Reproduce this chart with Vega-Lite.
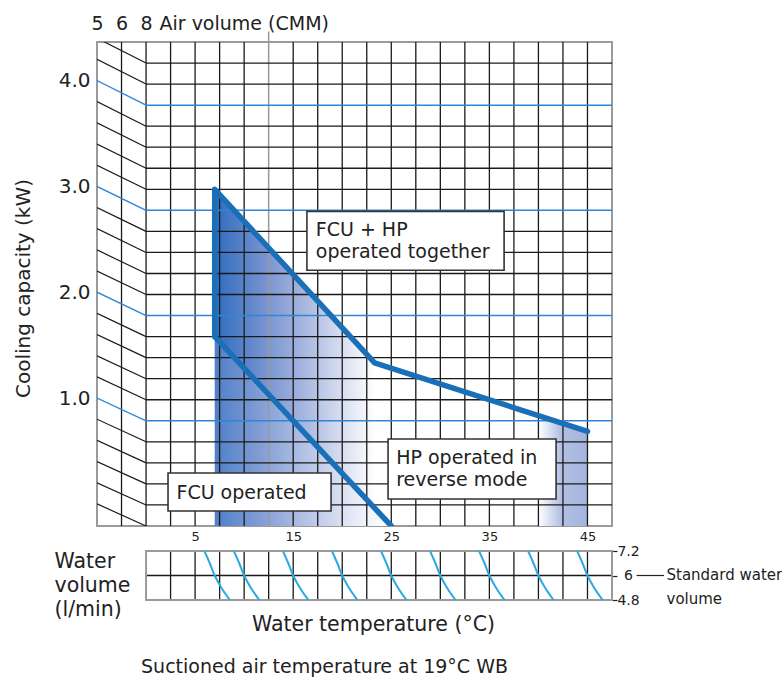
{
  "$schema": "https://vega.github.io/schema/vega-lite/v6.json",
  "padding": {"left": 12, "top": 13, "right": 0, "bottom": 0},
  "background": "white",
  "bounds": "flush",
  "spacing": 25,
  "config": {
    "view": {"stroke": "#9a9a9a", "strokeWidth": 2},
    "axis": {"grid": false, "labelFont": "DejaVu Sans", "titleFont": "DejaVu Sans", "labelColor": "#222", "titleColor": "#222", "titleFontWeight": "normal", "labelFlush": false, "labelOverlap": false}
  },
  "datasets": {
    "vgrid": [{"t": -2.5}, {"t": 0}, {"t": 2.5}, {"t": 5}, {"t": 7.5}, {"t": 10}, {"t": 15}, {"t": 17.5}, {"t": 20}, {"t": 22.5}, {"t": 25}, {"t": 27.5}, {"t": 30}, {"t": 32.5}, {"t": 35}, {"t": 37.5}, {"t": 40}, {"t": 42.5}, {"t": 45}],
    "airline": [{"t": 12.5}],
    "hminor": [{"kw": 0.2}, {"kw": 0.4}, {"kw": 0.6}, {"kw": 0.8}, {"kw": 1.2}, {"kw": 1.4}, {"kw": 1.6}, {"kw": 1.8}, {"kw": 2.2}, {"kw": 2.4}, {"kw": 2.6}, {"kw": 2.8}, {"kw": 3.2}, {"kw": 3.4}, {"kw": 3.6}, {"kw": 3.8}, {"kw": 4.2}, {"kw": 4.4}],
    "hmajor": [{"kw": 1}, {"kw": 2}, {"kw": 3}, {"kw": 4}],
    "slantMinor": [{"right": 0, "left": 0.21}, {"right": 0.2, "left": 0.411}, {"right": 0.4, "left": 0.612}, {"right": 0.6, "left": 0.814}, {"right": 0.8, "left": 1.015}, {"right": 1.2, "left": 1.417}, {"right": 1.4, "left": 1.618}, {"right": 1.6, "left": 1.82}, {"right": 1.8, "left": 2.021}, {"right": 2.2, "left": 2.423}, {"right": 2.4, "left": 2.624}, {"right": 2.6, "left": 2.826}, {"right": 2.8, "left": 3.027}, {"right": 3.2, "left": 3.429}, {"right": 3.4, "left": 3.63}, {"right": 3.6, "left": 3.832}, {"right": 3.8, "left": 4.033}, {"right": 4.2, "left": 4.435}, {"right": 4.4, "left": 4.636}],
    "slantMajor": [{"right": 1, "left": 1.216}, {"right": 2, "left": 2.222}, {"right": 3, "left": 3.228}, {"right": 4, "left": 4.234}],
    "shadeUpper": [{"t": 7, "kw": 3.2, "low": 1.8}, {"t": 23.3, "kw": 1.55, "low": 0.17}],
    "shadeLower": [{"t": 7, "kw": 1.8}, {"t": 25, "kw": 0}],
    "shadeB": [{"t": 40, "kw": 1.05}, {"t": 45, "kw": 0.9}],
    "bounds": [
      {"path": "upper", "seq": 1, "t": 7, "kw": 1.8},
      {"path": "upper", "seq": 2, "t": 7, "kw": 3.2},
      {"path": "upper", "seq": 3, "t": 23.3, "kw": 1.55},
      {"path": "upper", "seq": 4, "t": 45, "kw": 0.9},
      {"path": "lower", "seq": 1, "t": 7, "kw": 1.8},
      {"path": "lower", "seq": 2, "t": 25, "kw": 0}
    ],
    "boxes": [
      {"t1": 16.4, "t2": 36.5, "kw1": 2.99, "kw2": 2.43},
      {"t1": 2.24, "t2": 18.86, "kw1": 0.504, "kw2": 0.143},
      {"t1": 24.67, "t2": 41.8, "kw1": 0.827, "kw2": 0.257}
    ],
    "notes": [
      {"t": 17.3, "kw": 2.757, "label": "FCU + HP"},
      {"t": 17.3, "kw": 2.548, "label": "operated together"},
      {"t": 3.1, "kw": 0.257, "label": "FCU operated"},
      {"t": 25.5, "kw": 0.589, "label": "HP operated in"},
      {"t": 25.5, "kw": 0.38, "label": "reverse mode"}
    ],
    "sgrid": [{"t": 2.5}, {"t": 5}, {"t": 7.5}, {"t": 10}, {"t": 12.5}, {"t": 15}, {"t": 17.5}, {"t": 20}, {"t": 22.5}, {"t": 25}, {"t": 27.5}, {"t": 30}, {"t": 32.5}, {"t": 35}, {"t": 37.5}, {"t": 40}, {"t": 42.5}, {"t": 45}],
    "curves": [
      {"curve": 7, "vol": 7.2, "temp": 5.95}, {"curve": 7, "vol": 6.6, "temp": 6.5}, {"curve": 7, "vol": 6.0, "temp": 7}, {"curve": 7, "vol": 5.4, "temp": 7.68}, {"curve": 7, "vol": 4.8, "temp": 8.55},
      {"curve": 10, "vol": 7.2, "temp": 8.95}, {"curve": 10, "vol": 6.6, "temp": 9.5}, {"curve": 10, "vol": 6.0, "temp": 10}, {"curve": 10, "vol": 5.4, "temp": 10.68}, {"curve": 10, "vol": 4.8, "temp": 11.55},
      {"curve": 15, "vol": 7.2, "temp": 13.95}, {"curve": 15, "vol": 6.6, "temp": 14.5}, {"curve": 15, "vol": 6.0, "temp": 15}, {"curve": 15, "vol": 5.4, "temp": 15.68}, {"curve": 15, "vol": 4.8, "temp": 16.55},
      {"curve": 20, "vol": 7.2, "temp": 18.95}, {"curve": 20, "vol": 6.6, "temp": 19.5}, {"curve": 20, "vol": 6.0, "temp": 20}, {"curve": 20, "vol": 5.4, "temp": 20.68}, {"curve": 20, "vol": 4.8, "temp": 21.55},
      {"curve": 25, "vol": 7.2, "temp": 23.95}, {"curve": 25, "vol": 6.6, "temp": 24.5}, {"curve": 25, "vol": 6.0, "temp": 25}, {"curve": 25, "vol": 5.4, "temp": 25.68}, {"curve": 25, "vol": 4.8, "temp": 26.55},
      {"curve": 30, "vol": 7.2, "temp": 28.95}, {"curve": 30, "vol": 6.6, "temp": 29.5}, {"curve": 30, "vol": 6.0, "temp": 30}, {"curve": 30, "vol": 5.4, "temp": 30.68}, {"curve": 30, "vol": 4.8, "temp": 31.55},
      {"curve": 35, "vol": 7.2, "temp": 33.95}, {"curve": 35, "vol": 6.6, "temp": 34.5}, {"curve": 35, "vol": 6.0, "temp": 35}, {"curve": 35, "vol": 5.4, "temp": 35.68}, {"curve": 35, "vol": 4.8, "temp": 36.55},
      {"curve": 40, "vol": 7.2, "temp": 38.95}, {"curve": 40, "vol": 6.6, "temp": 39.5}, {"curve": 40, "vol": 6.0, "temp": 40}, {"curve": 40, "vol": 5.4, "temp": 40.68}, {"curve": 40, "vol": 4.8, "temp": 41.55},
      {"curve": 45, "vol": 7.2, "temp": 43.95}, {"curve": 45, "vol": 6.6, "temp": 44.5}, {"curve": 45, "vol": 6.0, "temp": 45}, {"curve": 45, "vol": 5.4, "temp": 45.68}, {"curve": 45, "vol": 4.8, "temp": 46.55}
    ],
    "standard": [{"vol": 6}]
  },
  "vconcat": [
    {
      "width": 515,
      "height": 484,
      "resolve": {"axis": {"x": "independent", "y": "independent"}},
      "layer": [
        {
          "data": {"name": "shadeUpper"},
          "mark": {"type": "area", "clip": true, "fill": {"gradient": "linear", "x1": 0, "y1": 0, "x2": 1, "y2": 0, "stops": [{"offset": 0, "color": "#2f6cbf"}, {"offset": 0.3, "color": "#7391cf"}, {"offset": 0.55, "color": "#a5b5df"}, {"offset": 0.8, "color": "#d8dff1"}, {"offset": 1, "color": "#ffffff"}]}},
          "encoding": {
            "x": {"field": "t", "type": "quantitative", "scale": {"domain": [-5, 47.5], "nice": false, "zero": false},
              "axis": {"orient": "bottom", "values": [5, 15, 25, 35, 45], "ticks": false, "domain": false, "labelPadding": 4, "labelFontSize": 13, "title": null}},
            "y": {"field": "kw", "type": "quantitative", "scale": {"domain": [0, 4.6], "nice": false, "zero": false},
              "axis": {"orient": "left", "values": [1.216, 2.222, 3.228, 4.234], "labelExpr": "format(round(datum.value), '.1f')", "ticks": false, "domain": false, "labelPadding": 7, "labelFontSize": 20, "title": "Cooling capacity (kW)", "titleFontSize": 20, "titleAngle": -90, "titleX": -74, "titleY": 246, "titleAlign": "center", "titleBaseline": "middle"}},
            "y2": {"field": "low"}
          }
        },
        {
          "data": {"name": "shadeLower"},
          "mark": {"type": "area", "clip": true, "fill": {"gradient": "linear", "x1": 0, "y1": 0, "x2": 1, "y2": 0, "stops": [{"offset": 0, "color": "#4f7fc8"}, {"offset": 0.3, "color": "#8aa2d8"}, {"offset": 0.6, "color": "#c4cfeb"}, {"offset": 0.85, "color": "#f0f3fa"}, {"offset": 1, "color": "#ffffff"}]}},
          "encoding": {
            "x": {"field": "t", "type": "quantitative", "axis": null},
            "y": {"field": "kw", "type": "quantitative", "axis": null},
            "y2": {"datum": 0}
          }
        },
        {
          "data": {"name": "shadeB"},
          "mark": {"type": "area", "clip": true, "fill": {"gradient": "linear", "x1": 0, "y1": 0, "x2": 1, "y2": 0, "stops": [{"offset": 0, "color": "#ffffff"}, {"offset": 0.45, "color": "#b4c1e5"}, {"offset": 1, "color": "#a3b3de"}]}},
          "encoding": {
            "x": {"field": "t", "type": "quantitative",
              "axis": {"orient": "top", "values": [-5, -2.5, 0], "labelExpr": "datum.value == -5 ? '5' : datum.value == -2.5 ? '6' : '8'", "ticks": false, "domain": false, "labelPadding": 9, "labelFontSize": 19, "title": "Air volume (CMM)", "titleFontSize": 19, "titleX": 62, "titleY": -13, "titleAlign": "left", "titleBaseline": "alphabetic"}},
            "y": {"field": "kw", "type": "quantitative", "axis": null},
            "y2": {"datum": 0}
          }
        },
        {
          "data": {"name": "vgrid"},
          "mark": {"type": "rule", "color": "#1a1a1a", "strokeWidth": 1.3},
          "encoding": {"x": {"field": "t", "type": "quantitative", "axis": null}}
        },
        {
          "data": {"name": "airline"},
          "mark": {"type": "rule", "color": "#9a9a9a", "strokeWidth": 1.5, "clip": false},
          "encoding": {"x": {"field": "t", "type": "quantitative", "axis": null}, "y": {"datum": 0, "type": "quantitative", "axis": null}, "y2": {"datum": 4.7}}
        },
        {
          "data": {"name": "hminor"},
          "mark": {"type": "rule", "color": "#1a1a1a", "strokeWidth": 1.3},
          "encoding": {"y": {"field": "kw", "type": "quantitative", "axis": null}, "x": {"datum": 0, "type": "quantitative", "axis": null}, "x2": {"datum": 47.5}}
        },
        {
          "data": {"name": "slantMinor"},
          "mark": {"type": "rule", "color": "#1a1a1a", "strokeWidth": 1.2, "clip": true},
          "encoding": {"y": {"field": "left", "type": "quantitative", "axis": null}, "y2": {"field": "right"}, "x": {"datum": -5, "type": "quantitative", "axis": null}, "x2": {"datum": 0}}
        },
        {
          "data": {"name": "hmajor"},
          "mark": {"type": "rule", "color": "#2f86d6", "strokeWidth": 1.5},
          "encoding": {"y": {"field": "kw", "type": "quantitative", "axis": null}, "x": {"datum": 0, "type": "quantitative", "axis": null}, "x2": {"datum": 47.5}}
        },
        {
          "data": {"name": "slantMajor"},
          "mark": {"type": "rule", "color": "#2f86d6", "strokeWidth": 1.4, "clip": true},
          "encoding": {"y": {"field": "left", "type": "quantitative", "axis": null}, "y2": {"field": "right"}, "x": {"datum": -5, "type": "quantitative", "axis": null}, "x2": {"datum": 0}}
        },
        {
          "data": {"name": "bounds"},
          "mark": {"type": "line", "color": "#1a70b8", "strokeWidth": 5.5, "strokeJoin": "round", "strokeCap": "round", "clip": true},
          "encoding": {"x": {"field": "t", "type": "quantitative", "axis": null}, "y": {"field": "kw", "type": "quantitative", "axis": null}, "detail": {"field": "path"}, "order": {"field": "seq", "type": "quantitative"}}
        },
        {
          "data": {"name": "boxes"},
          "mark": {"type": "rect", "fill": "white", "stroke": "#333333", "strokeWidth": 1.6},
          "encoding": {"x": {"field": "t1", "type": "quantitative", "axis": null}, "x2": {"field": "t2"}, "y": {"field": "kw1", "type": "quantitative", "axis": null}, "y2": {"field": "kw2"}}
        },
        {
          "data": {"name": "notes"},
          "mark": {"type": "text", "align": "left", "baseline": "alphabetic", "font": "DejaVu Sans", "fontSize": 19, "color": "#222"},
          "encoding": {"x": {"field": "t", "type": "quantitative", "axis": null}, "y": {"field": "kw", "type": "quantitative", "axis": null}, "text": {"field": "label"}}
        }
      ]
    },
    {
      "width": 515,
      "height": 49,
      "view": {"stroke": null},
      "resolve": {"axis": {"x": "independent", "y": "independent"}},
      "title": {"text": "Suctioned air temperature at 19°C WB", "orient": "bottom", "anchor": "middle", "frame": "group", "dx": -30, "offset": 23, "baseline": "top", "font": "DejaVu Sans", "fontSize": 19, "fontWeight": "normal", "color": "#222"},
      "layer": [
        {
          "data": {"name": "sgrid"},
          "mark": {"type": "rule", "color": "#1a1a1a", "strokeWidth": 1.3},
          "encoding": {"x": {"field": "t", "type": "quantitative", "scale": {"domain": [-5, 47.5], "nice": false, "zero": false},
            "axis": {"orient": "bottom", "labels": false, "ticks": false, "domain": false, "title": "Water temperature (°C)", "titleFontSize": 20.5, "titleX": 276, "titleY": 30, "titleAlign": "center", "titleBaseline": "alphabetic"}}}
        },
        {
          "data": {"name": "standard"},
          "mark": {"type": "rule", "color": "#1a1a1a", "strokeWidth": 1.3},
          "encoding": {
            "y": {"field": "vol", "type": "quantitative", "scale": {"domain": [4.8, 7.2], "nice": false, "zero": false},
              "axis": {"orient": "right", "values": [4.8, 6, 7.2], "labelExpr": "datum.value == 6 ? '6' : format(datum.value, '.1f')", "ticks": true, "tickSize": 5, "tickColor": "#222", "tickWidth": 1.2, "domain": false, "labelAlign": "center", "labelBaseline": "middle", "labelPadding": 11, "labelFontSize": 14, "title": ["Standard water", "volume"], "titleFontSize": 15, "titleAngle": 0, "titleAlign": "left", "titleBaseline": "alphabetic", "titleX": 54, "titleY": 28, "titleLineHeight": 24}},
            "x": {"datum": 0, "type": "quantitative", "axis": null}, "x2": {"datum": 47.5}
          }
        },
        {
          "data": {"name": "standard"},
          "mark": {"type": "rule", "color": "#222", "strokeWidth": 1.2, "clip": false},
          "encoding": {"y": {"field": "vol", "type": "quantitative", "axis": null}, "x": {"datum": 50.0, "type": "quantitative", "axis": null}, "x2": {"datum": 52.8}}
        },
        {
          "data": {"values": [{}]},
          "mark": {"type": "rect", "fill": null, "stroke": "#9a9a9a", "strokeWidth": 2},
          "encoding": {"x": {"datum": 0, "type": "quantitative", "axis": null}, "x2": {"datum": 47.5}, "y": {"datum": 4.8, "type": "quantitative", "axis": null}, "y2": {"datum": 7.2}}
        },
        {
          "data": {"name": "curves"},
          "mark": {"type": "line", "color": "#29abe2", "strokeWidth": 2, "interpolate": "monotone", "clip": true},
          "encoding": {
            "x": {"field": "temp", "type": "quantitative", "axis": null},
            "y": {"field": "vol", "type": "quantitative",
              "axis": {"orient": "left", "labels": false, "ticks": false, "domain": false, "title": ["Water", "volume", "(l/min)"], "titleFontSize": 20.5, "titleAngle": 0, "titleAlign": "left", "titleBaseline": "alphabetic", "titleX": -43, "titleY": 16, "titleLineHeight": 24}},
            "detail": {"field": "curve"}
          }
        }
      ]
    }
  ]
}
